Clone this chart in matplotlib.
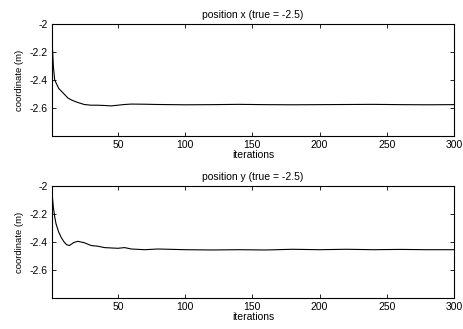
import matplotlib.pyplot as plt

plt.rcParams['font.family'] = ['Liberation Sans', 'DejaVu Sans']

# sampled estimates of the estimated coordinate over iterations
iters_x = [1, 2, 3, 4, 6, 8, 10, 13, 16, 20, 25, 30, 35, 40, 45, 50, 55, 60, 70, 80, 100, 120, 140, 160, 180, 200, 220, 240, 260, 280, 300]
pos_x = [-2.1, -2.3, -2.4, -2.42, -2.46, -2.48, -2.5, -2.53, -2.545, -2.56, -2.575, -2.58, -2.58, -2.582, -2.585, -2.58, -2.575, -2.572, -2.573, -2.575, -2.577, -2.576, -2.574, -2.576, -2.577, -2.576, -2.575, -2.574, -2.576, -2.577, -2.576]

iters_y = [1, 2, 3, 4, 6, 8, 10, 12, 14, 17, 20, 25, 30, 35, 40, 50, 55, 60, 70, 80, 100, 120, 140, 160, 180, 200, 220, 240, 260, 280, 300]
pos_y = [-2.05, -2.15, -2.22, -2.27, -2.33, -2.37, -2.40, -2.42, -2.425, -2.405, -2.395, -2.405, -2.425, -2.43, -2.44, -2.445, -2.44, -2.45, -2.455, -2.45, -2.455, -2.457, -2.455, -2.457, -2.452, -2.455, -2.452, -2.455, -2.453, -2.455, -2.455]

titles = ['position x (true = -2.5)', 'position y (true = -2.5)']
x_ticks = [50, 100, 150, 200, 250, 300]
y_ticks = [-2.0, -2.2, -2.4, -2.6]
y_labels = ['-2', '-2.2', '-2.4', '-2.6']

fig = plt.figure(figsize=(4.64, 3.29), dpi=100)
ax1 = fig.add_axes([52 / 464, 1 - 136 / 329, 402 / 464, 112 / 329])
ax2 = fig.add_axes([52 / 464, 1 - 298 / 329, 402 / 464, 112 / 329])

for ax, xs, ys, title in [(ax1, iters_x, pos_x, titles[0]), (ax2, iters_y, pos_y, titles[1])]:
    ax.plot(xs, ys, color='black', linewidth=0.8)
    ax.set_xlim(1, 300)
    ax.set_ylim(-2.8, -2.0)
    ax.set_xticks(x_ticks)
    ax.set_yticks(y_ticks)
    ax.set_yticklabels(y_labels)
    ax.tick_params(direction='in', top=True, right=True, labelsize=7.5, length=3, width=0.6, pad=3)
    for s in ax.spines.values():
        s.set_linewidth(0.8)
    ax.set_title(title, fontsize=7.5, pad=4)
    ax.set_xlabel('iterations', fontsize=7.5, labelpad=0)
    ax.set_ylabel('coordinate (m)', fontsize=6.8, labelpad=4)

fig.savefig('out.png', dpi=100)
